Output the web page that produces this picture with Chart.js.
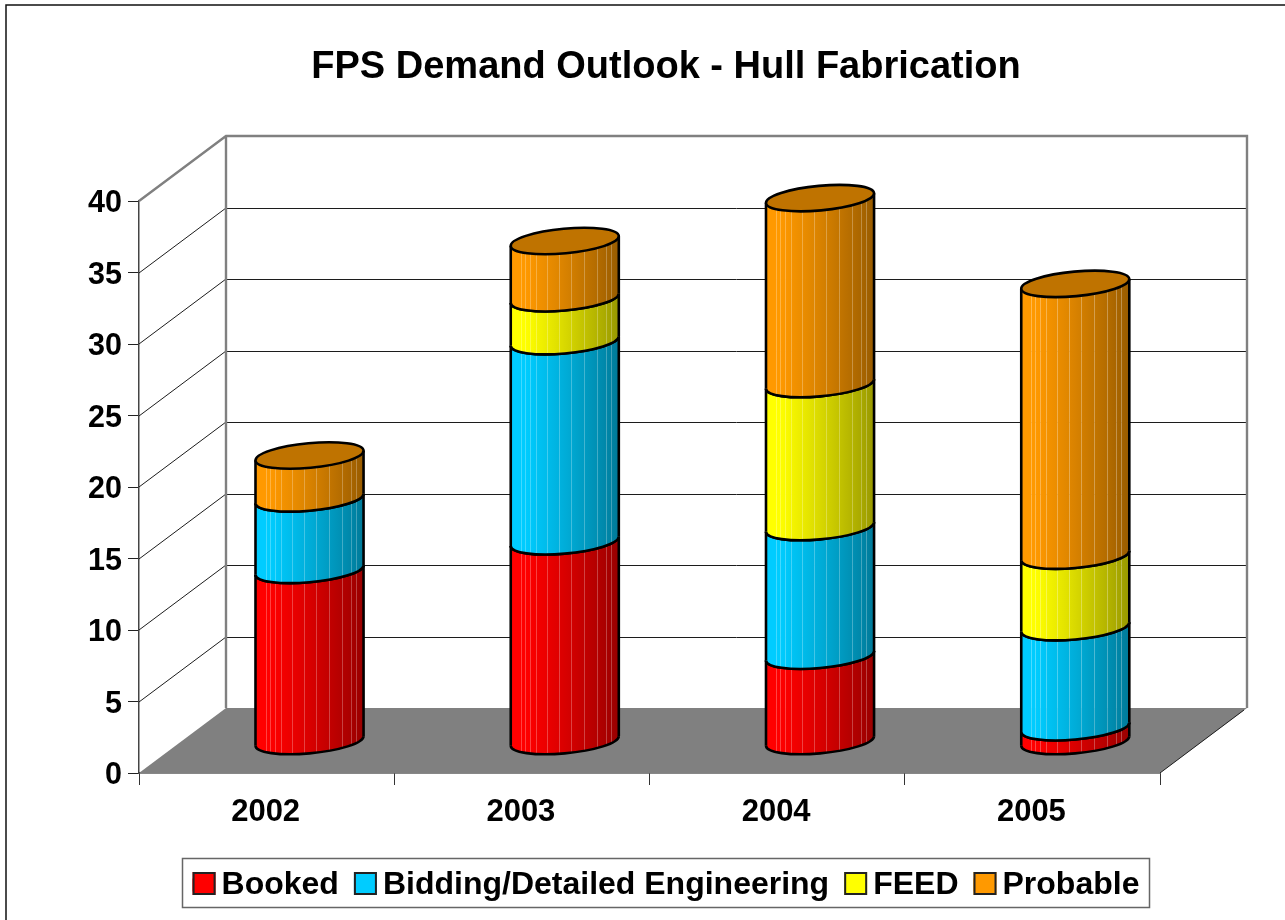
<!DOCTYPE html>
<html>
<head>
<meta charset="utf-8">
<title>FPS Demand Outlook - Hull Fabrication</title>
<style>html,body{margin:0;padding:0;background:#fff}canvas{display:block}</style>
<script src="https://cdn.jsdelivr.net/npm/chart.js@4"></script>
</head>
<body>
<canvas id="c" width="1285" height="920"></canvas>
<script>
const chartTitle = 'FPS Demand Outlook - Hull Fabrication';
const categories = ['2002', '2003', '2004', '2005'];
const booked   = [12, 14, 6, 1];
const bidding  = [5, 14, 9, 7];
const feed     = [0, 3, 10, 5];
const probable = [3, 4, 13, 19];
const seriesNames = ['Booked', 'Bidding/Detailed Engineering', 'FEED', 'Probable'];
const seriesColors = [[255,0,0], [0,204,255], [255,255,0], [255,153,0]];
const FONT = '"Liberation Sans", Arial, sans-serif';
const DEPTH_X = 87, DEPTH_Y = -65;
const rgb = (c, f) => `rgb(${Math.round(c[0]*f)},${Math.round(c[1]*f)},${Math.round(c[2]*f)})`;
const SEAMS = [-44,-40,-35,-29,-18,-6,6,19,32,41,46];

const scene = {
  id: 'scene',
  afterLayout(chart) {
    const shift = 86;
    const lg = chart.legend, tb = chart.titleBlock;
    lg.left += shift; lg.right += shift;
    lg.legendHitBoxes.forEach(h => { h.left += shift; });
    tb.left += shift; tb.right += shift;
    chart.scales.y.getLabelItems(chart.chartArea).forEach(it => { it.options.translation[1] += 3; });
    chart.scales.x.getLabelItems(chart.chartArea).forEach(it => { it.options.translation[0] -= 1; it.options.translation[1] += 2; });
  },
  beforeDraw(chart) {
    const c = chart.ctx;
    c.save();
    c.strokeStyle = '#111'; c.lineWidth = 1.5;
    c.beginPath(); c.moveTo(6, 920); c.lineTo(6, 5); c.lineTo(1285, 5); c.stroke();
    c.restore();
  },
  beforeDatasetsDraw(chart) {
    const c = chart.ctx, a = chart.chartArea, y = chart.scales.y;
    const L = a.left, R = a.right, B = a.bottom, T = a.top;
    c.save();
    c.fillStyle = '#808080';
    c.beginPath();
    c.moveTo(L, B); c.lineTo(L + DEPTH_X, B + DEPTH_Y); c.lineTo(R + DEPTH_X, B + DEPTH_Y); c.lineTo(R, B);
    c.closePath(); c.fill();
    c.strokeStyle = '#1c1c1c'; c.lineWidth = 1;
    y.ticks.forEach(t => {
      const py = Math.round(y.getPixelForValue(t.value));
      if (t.value > 0 && t.value < 40) {
        c.beginPath();
        c.moveTo(L, py); c.lineTo(L + DEPTH_X, py + DEPTH_Y);
        c.stroke();
        c.beginPath();
        c.moveTo(L + DEPTH_X, py + DEPTH_Y + .5); c.lineTo(R + DEPTH_X, py + DEPTH_Y + .5);
        c.stroke();
      }
    });
    c.beginPath(); c.moveTo(R, B); c.lineTo(R + DEPTH_X - 3, B + DEPTH_Y + 2); c.stroke();
    c.strokeStyle = '#808080'; c.lineWidth = 2.4;
    c.beginPath();
    c.moveTo(L + DEPTH_X, B + DEPTH_Y); c.lineTo(L + DEPTH_X, T + DEPTH_Y);
    c.moveTo(L, T); c.lineTo(L + DEPTH_X, T + DEPTH_Y); c.lineTo(R + DEPTH_X, T + DEPTH_Y); c.lineTo(R + DEPTH_X, B + DEPTH_Y);
    c.stroke();
    c.restore();
  },
  beforeDatasetDraw() { return false; },
  afterDatasetsDraw(chart) {
    const c = chart.ctx;
    const n = chart.data.datasets.length;
    const theta = -5.3 * Math.PI / 180;
    const ry = 12.3;
    categories.forEach((_, i) => {
      let topIdx = -1;
      for (let d = 0; d < n; d++) if (chart.data.datasets[d].data[i] > 0) topIdx = d;
      for (let d = 0; d < n; d++) {
        const v = chart.data.datasets[d].data[i];
        if (!(v > 0)) continue;
        const el = chart.getDatasetMeta(d).data[i];
        const col = seriesColors[d];
        const cx = el.x + DEPTH_X / 2 - .6, rx = el.width / 2 + .2;
        const yb = el.base + DEPTH_Y / 2 + 1, yt = el.y + DEPTH_Y / 2 + 1;
        const t0 = Math.atan(-(ry / rx) * Math.tan(theta));
        const halfW = el.width / 2;
        c.save();
        c.beginPath();
        c.ellipse(cx, yt, rx, ry, theta, t0 + Math.PI, t0, true);
        c.ellipse(cx, yb, rx, ry, theta, t0, t0 + Math.PI, false);
        c.closePath();
        c.clip();
        const top = yt - 20, h = yb - yt + 40;
        const shade = u => u < .12 ? 1 : 1 - .4 * Math.pow((u - .12) / .88, 1.15);
        const edges = [-halfW].concat(SEAMS, [halfW]);
        for (let k = 0; k < edges.length - 1; k++) {
          const x0 = edges[k], x1 = edges[k + 1];
          const g = c.createLinearGradient(cx + x0, 0, cx + x1, 0);
          g.addColorStop(0, rgb(col, shade((x0 + halfW) / el.width)));
          g.addColorStop(1, rgb(col, shade((x1 + halfW) / el.width)));
          c.fillStyle = g;
          c.fillRect(cx + x0, top, x1 - x0 + .5, h);
        }
        c.fillStyle = 'rgba(255,255,255,0.26)';
        SEAMS.forEach(s => c.fillRect(Math.round(cx + s), top, 1, h));
        c.restore();
        c.strokeStyle = '#000'; c.lineWidth = 2.6;
        c.beginPath();
        c.ellipse(cx, yb, rx, ry, theta, t0, t0 + Math.PI, false);
        c.stroke();
        const sx = rx * Math.cos(t0) * Math.cos(theta) - ry * Math.sin(t0) * Math.sin(theta);
        const sy = rx * Math.cos(t0) * Math.sin(theta) + ry * Math.sin(t0) * Math.cos(theta);
        c.beginPath();
        c.moveTo(cx - sx, yb - sy); c.lineTo(cx - sx, yt - sy);
        c.moveTo(cx + sx, yb + sy); c.lineTo(cx + sx, yt + sy);
        c.stroke();
        if (d === topIdx) {
          c.beginPath();
          c.ellipse(cx, yt, rx, ry, theta, 0, Math.PI * 2);
          c.fillStyle = rgb(col, .75);
          c.fill();
          c.stroke();
        } else {
          c.beginPath();
          c.ellipse(cx, yt, rx, ry, theta, t0, t0 + Math.PI, false);
          c.stroke();
        }
      }
    });
  },
  afterDraw(chart) {
    const c = chart.ctx, hits = chart.legend.legendHitBoxes;
    c.save();
    c.strokeStyle = '#666'; c.lineWidth = 1.5;
    c.strokeRect(182.5, 858.5, 967, 49);
    hits.forEach((h, i) => {
      const my = h.top + h.height / 2 - 2;
      c.fillStyle = rgb(seriesColors[i], 1);
      c.fillRect(h.left, my - 11, 23, 23);
      c.strokeStyle = '#222'; c.lineWidth = 2;
      c.strokeRect(h.left + 1, my - 10, 21, 21);
    });
    c.restore();
  }
};

const palette = seriesColors.map(col => rgb(col, 1));
new Chart(document.getElementById('c'), {
  type: 'bar',
  data: {
    labels: categories,
    datasets: [
      { label: seriesNames[0], data: booked,   backgroundColor: palette[0] },
      { label: seriesNames[1], data: bidding,  backgroundColor: palette[1] },
      { label: seriesNames[2], data: feed,     backgroundColor: palette[2] },
      { label: seriesNames[3], data: probable, backgroundColor: palette[3] }
    ]
  },
  plugins: [scene],
  options: {
    responsive: false,
    animation: false,
    devicePixelRatio: 1,
    categoryPercentage: 1,
    barPercentage: 0.4235,
    layout: { padding: { left: 0, right: 125, top: 0, bottom: 9 } },
    plugins: {
      tooltip: { enabled: false },
      title: {
        display: true, text: chartTitle, color: '#000',
        font: { family: FONT, size: 38, weight: 'bold', lineHeight: 1.2 },
        padding: { top: 45, bottom: 110.4 }
      },
      legend: {
        display: true, position: 'bottom',
        labels: {
          color: '#000', boxWidth: 13, boxHeight: 13, padding: 15,
          font: { family: FONT, size: 32, weight: 'bold' }
        }
      }
    },
    scales: {
      x: {
        stacked: true,
        afterFit(s) { s.height = 81; },
        grid: { offset: true, drawOnChartArea: false, color: '#333', tickLength: 12 },
        border: { color: '#111', width: 1.5 },
        ticks: { color: '#000', padding: 7, maxRotation: 0, autoSkip: false, font: { family: FONT, size: 31, weight: 'bold' } }
      },
      y: {
        stacked: true, min: 0, max: 40,
        afterFit(s) { s.width = 139; },
        grid: { drawOnChartArea: false, color: '#222', tickLength: 11 },
        border: { color: '#444', width: 1.5 },
        ticks: { stepSize: 5, color: '#000', padding: 6, font: { family: FONT, size: 30.5, weight: 'bold' } }
      }
    }
  }
});
</script>
</body>
</html>
